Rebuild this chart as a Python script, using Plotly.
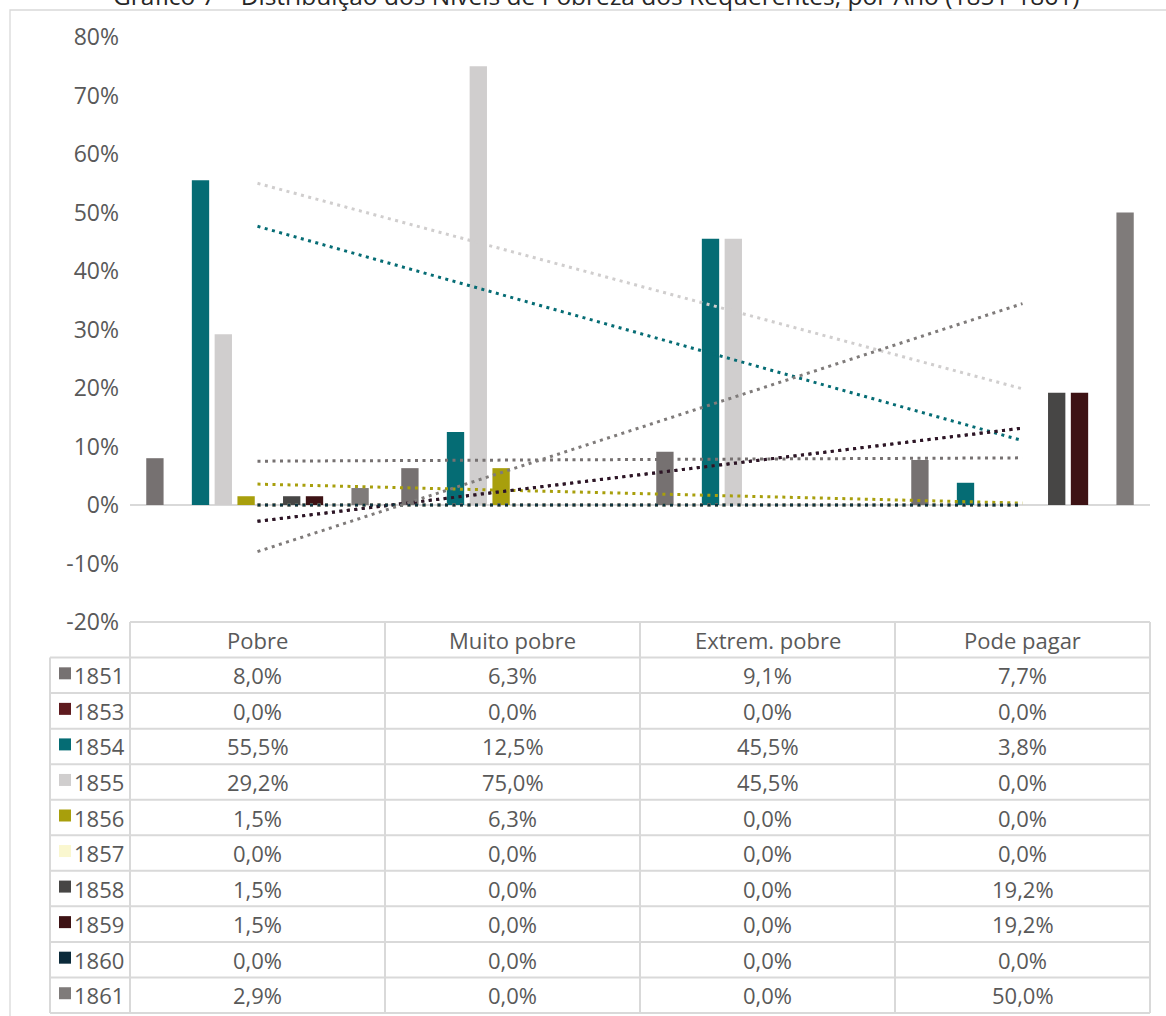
import numpy as np
import plotly.graph_objects as go

# ---- data -------------------------------------------------------------
categories = ["Pobre", "Muito pobre", "Extrem. pobre", "Pode pagar"]
years = ["1851", "1853", "1854", "1855", "1856", "1857", "1858", "1859", "1860", "1861"]

v1851 = [8.0, 6.3, 9.1, 7.7]
v1853 = [0.0, 0.0, 0.0, 0.0]
v1854 = [55.5, 12.5, 45.5, 3.8]
v1855 = [29.2, 75.0, 45.5, 0.0]
v1856 = [1.5, 6.3, 0.0, 0.0]
v1857 = [0.0, 0.0, 0.0, 0.0]
v1858 = [1.5, 0.0, 0.0, 19.2]
v1859 = [1.5, 0.0, 0.0, 19.2]
v1860 = [0.0, 0.0, 0.0, 0.0]
v1861 = [2.9, 0.0, 0.0, 50.0]
series = [v1851, v1853, v1854, v1855, v1856, v1857, v1858, v1859, v1860, v1861]

colors = ["#767171", "#5E1A1E", "#056C74", "#D0CECE", "#A89F0C",
          "#FAF7CF", "#474645", "#3D1214", "#0B2A3A", "#7F7B7A"]
trend_colors = ["#767171", "#5E1A1E", "#056C74", "#D0CECE", "#A89F0C",
                "#F3EFB8", "#474645", "#2E1426", "#0D3340", "#7F7B7A"]

y_ticks = [-20, -10, 0, 10, 20, 30, 40, 50, 60, 70, 80]
y_tick_labels = ["-20%", "-10%", "0%", "10%", "20%", "30%", "40%", "50%", "60%", "70%", "80%"]

title = "Gráfico 7 – Distribuição dos Níveis de Pobreza dos Requerentes, por Ano (1851-1861)"

# ---- page geometry (pixels) -------------------------------------------
W, H = 1166, 1016
ML, MR, MT, MB = 130, 16, 37, 3
PW, PH = W - ML - MR, H - MT - MB
TABLE_TOP = 622          # top of the data table / bottom of value axis
LEFT_COL = 50            # left edge of the series-name column

def px_x(px):
    return (px - ML) / PW

def px_y(py):
    return (H - MB - py) / PH

y_dom0 = px_y(TABLE_TOP)
n_rows = len(years) + 1
row_h = y_dom0 / n_rows

TEXT = "#595959"
GRID = "#D9D9D9"
FONT = "Open Sans"

fig = go.Figure()

# clustered columns
for name, vals, col in zip(years, series, colors):
    fig.add_trace(go.Bar(
        x=categories, y=vals, name=name,
        marker=dict(color=col, line=dict(width=0)),
        showlegend=False, hoverinfo="skip",
    ))

# linear trendlines (least squares over category index), dotted
xi = np.arange(1, len(categories) + 1)
for name, vals, col in zip(years, series, trend_colors):
    slope, icept = np.polyfit(xi, np.asarray(vals, float), 1)
    fit = slope * xi + icept
    fig.add_trace(go.Scatter(
        x=categories, y=fit, mode="lines",
        line=dict(color=col, width=3, dash="3px,4.5px"),
        showlegend=False, hoverinfo="skip",
    ))

shapes = []
annotations = []

# outer chart frame
shapes.append(dict(type="rect", xref="paper", yref="paper",
                   x0=px_x(10), x1=px_x(W + 20), y0=px_y(H + 20), y1=px_y(10),
                   line=dict(color=GRID, width=1.3), fillcolor="rgba(0,0,0,0)",
                   layer="below"))

# data table grid
ncat = len(categories)
for i in range(ncat + 1):
    shapes.append(dict(type="line", xref="paper", yref="paper",
                       x0=i / ncat, x1=i / ncat, y0=0, y1=y_dom0,
                       line=dict(color=GRID, width=2)))
shapes.append(dict(type="line", xref="paper", yref="paper",
                   x0=px_x(LEFT_COL), x1=px_x(LEFT_COL), y0=0, y1=y_dom0 - row_h,
                   line=dict(color=GRID, width=2)))
shapes.append(dict(type="line", xref="paper", yref="paper",
                   x0=0, x1=1, y0=y_dom0, y1=y_dom0,
                   line=dict(color=GRID, width=2)))
for k in range(1, n_rows + 1):
    yy = y_dom0 - k * row_h
    shapes.append(dict(type="line", xref="paper", yref="paper",
                       x0=px_x(LEFT_COL), x1=1, y0=yy, y1=yy,
                       line=dict(color=GRID, width=2)))

# header labels
for i, cat in enumerate(categories):
    annotations.append(dict(xref="paper", yref="paper",
                            x=(i + 0.5) / ncat, y=y_dom0 - 0.5 * row_h,
                            text=cat, showarrow=False,
                            xanchor="center", yanchor="middle",
                            font=dict(family=FONT, size=22, color=TEXT)))

# series rows: legend key, year and values
sq_w = 12 / PW
sq_h = 12 / PH
for r, (name, vals, col) in enumerate(zip(years, series, colors)):
    yc = y_dom0 - (r + 1.5) * row_h
    shapes.append(dict(type="rect", xref="paper", yref="paper",
                       x0=px_x(59), x1=px_x(59) + sq_w,
                       y0=yc + 2 / PH - sq_h / 2, y1=yc + 2 / PH + sq_h / 2,
                       line=dict(width=0), fillcolor=col))
    annotations.append(dict(xref="paper", yref="paper", x=px_x(72), y=yc,
                            text=name, showarrow=False,
                            xanchor="left", yanchor="middle",
                            font=dict(family=FONT, size=22, color=TEXT)))
    for i, v in enumerate(vals):
        annotations.append(dict(xref="paper", yref="paper",
                                x=(i + 0.5) / ncat, y=yc,
                                text=f"{v:.1f}".replace(".", ",") + "%",
                                showarrow=False, xanchor="center", yanchor="middle",
                                font=dict(family=FONT, size=22, color=TEXT)))

# chart title (sits at the very top edge of the page)
annotations.append(dict(xref="paper", yref="paper", x=px_x(596), y=px_y(-5),
                        text=title, showarrow=False,
                        xanchor="center", yanchor="middle",
                        font=dict(family=FONT, size=24.5, color="#262626")))

fig.update_layout(
    width=W, height=H, autosize=False,
    margin=dict(l=ML, r=MR, t=MT, b=MB, pad=0, autoexpand=False),
    paper_bgcolor="white", plot_bgcolor="white",
    barmode="group", bargap=0.106, bargroupgap=0.24,
    showlegend=False,
    font=dict(family=FONT, color=TEXT),
    xaxis=dict(type="category", categoryorder="array", categoryarray=categories,
               showticklabels=False, showgrid=False, zeroline=False, showline=False,
               ticks="", automargin=False),
    yaxis=dict(domain=[y_dom0, 1], range=[-20, 80],
               tickvals=y_ticks, ticktext=y_tick_labels,
               tickfont=dict(family=FONT, size=23, color=TEXT),
               showgrid=False, showline=False, ticks="",
               ticklabelstandoff=10, automargin=False,
               zeroline=True, zerolinecolor=GRID, zerolinewidth=1.5),
    shapes=shapes, annotations=annotations,
)

fig.write_html("out.html")
